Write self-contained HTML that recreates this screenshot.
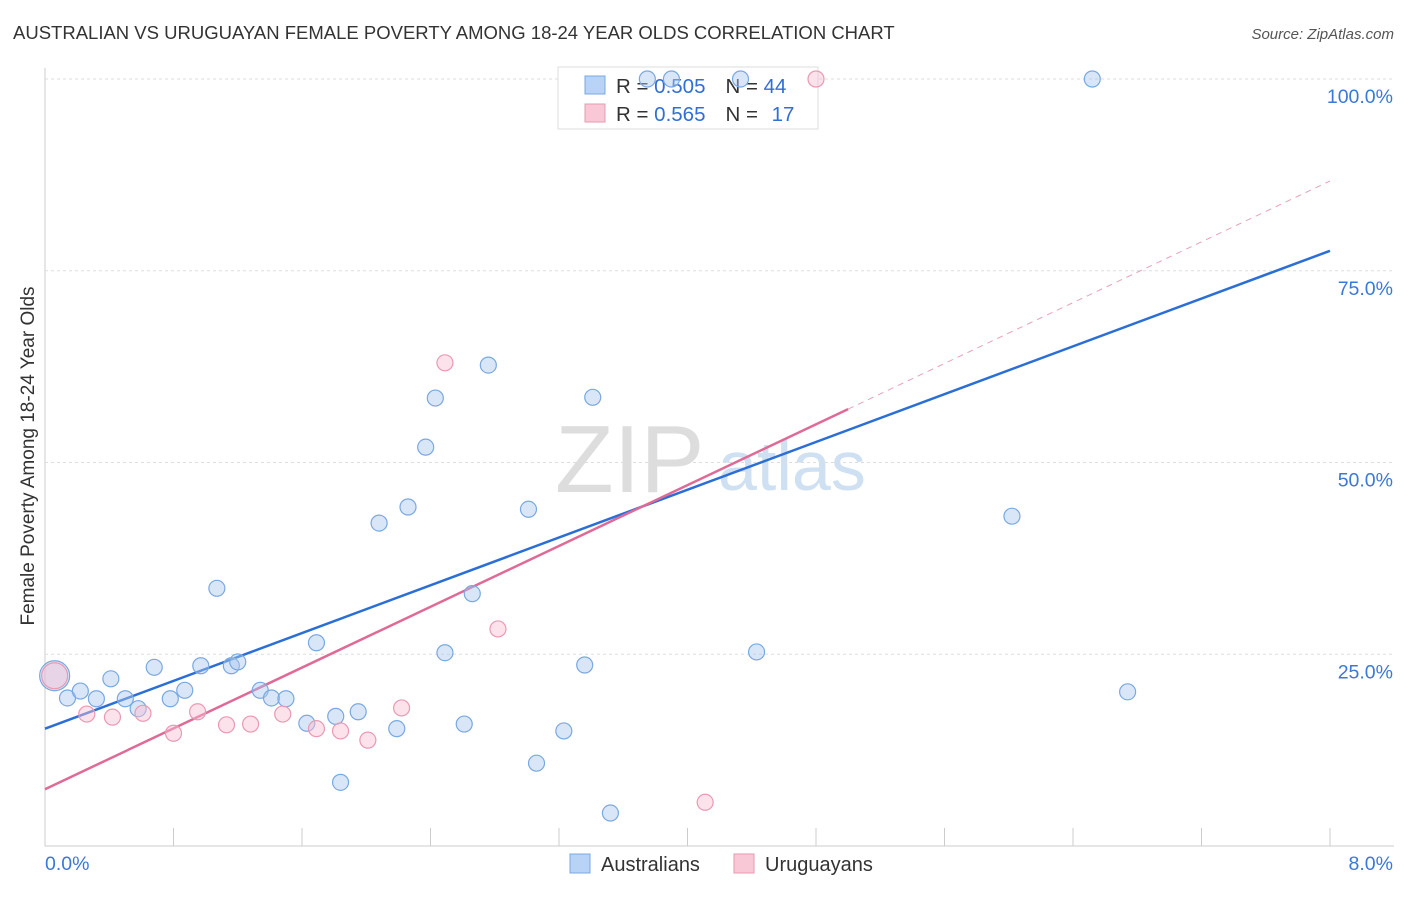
<!DOCTYPE html>
<html><head><meta charset="utf-8"><style>
body{margin:0;background:#fff;font-family:"Liberation Sans",sans-serif;}
svg text{font-family:"Liberation Sans",sans-serif;}
</style></head><body>
<svg id="c" width="1406" height="892">
<text x="13" y="39" font-size="18.5" fill="#333">AUSTRALIAN VS URUGUAYAN FEMALE POVERTY AMONG 18-24 YEAR OLDS CORRELATION CHART</text>
<text x="1394" y="39" font-size="15" fill="#555" font-style="italic" text-anchor="end">Source: ZipAtlas.com</text>
<text x="34" y="456" font-size="19" fill="#333" text-anchor="middle" transform="rotate(-90 34 456)">Female Poverty Among 18-24 Year Olds</text>
<text x="555" y="492" font-size="96" fill="#ddd" font-family="Liberation Serif">ZIP</text>
<text x="718" y="490" font-size="70" fill="#cfe0f3">atlas</text>
<g id="grid"></g>
<g>
<rect x="558" y="67" width="260" height="62" fill="#fff" stroke="#ddd"/>
<rect x="585" y="76" width="20" height="18" fill="#b8d3f5" stroke="#7aa8e0"/>
<rect x="585" y="104" width="20" height="18" fill="#f8c8d6" stroke="#e99ab2"/>
<text x="616" y="93" font-size="20.5" fill="#333">R = <tspan fill="#2f6fd6">0.505</tspan><tspan dx="20">N = </tspan><tspan fill="#2f6fd6">44</tspan></text>
<text x="616" y="121" font-size="20.5" fill="#333">R = <tspan fill="#2f6fd6">0.565</tspan><tspan dx="20">N = </tspan><tspan fill="#2f6fd6" dx="8">17</tspan></text>
</g>
<g id="lines"></g><g id="pts"></g>
<g>
<rect x="570" y="854" width="20" height="19" fill="#b8d3f5" stroke="#7aa8e0"/>
<text x="601" y="871" font-size="20" fill="#333">Australians</text>
<rect x="734" y="854" width="20" height="19" fill="#f8c8d6" stroke="#e99ab2"/>
<text x="765" y="871" font-size="20" fill="#333">Uruguayans</text>
</g>
</svg>
<script>
const blueX=[0.06,0.14,0.22,0.32,0.41,0.50,0.58,0.68,0.78,0.87,0.97,1.07,1.16,1.20,1.34,1.41,1.50,1.63,1.69,1.81,1.84,1.95,2.08,2.19,2.26,2.37,2.43,2.49,2.61,2.66,2.76,3.01,3.06,3.23,3.36,3.41,3.52,4.43,6.02,6.52,6.74,3.75,3.90,4.33];
const blueY=[22.2,19.3,20.2,19.2,21.8,19.2,17.9,23.3,19.2,20.3,23.5,33.6,23.5,24.0,20.3,19.3,19.2,16.0,26.5,16.9,8.3,17.5,42.1,15.3,44.2,52.0,58.4,25.2,15.9,32.9,62.7,43.9,10.8,15.0,23.6,58.5,4.3,25.3,43.0,100,20.1,100,100,100];
const pinkX=[0.06,0.26,0.42,0.61,0.80,0.95,1.13,1.28,1.48,1.69,1.84,2.01,2.22,2.49,2.82,4.11,4.80];
const pinkY=[22.2,17.2,16.8,17.3,14.7,17.5,15.8,15.9,17.2,15.3,15.0,13.8,18.0,63.0,28.3,5.7,100];
const blueLine=[15.3,77.6];
const pinkLine=[7.4,86.7];
const pinkSolidEnd=5.0;
const yTicks=[25,50,75,100];
const xTickCount=10;
const NS="http://www.w3.org/2000/svg";
const sx=v=>45+v/8*1285, sy=v=>846-v/100*767;
function mk(t,a,p){const e=document.createElementNS(NS,t);for(const k in a)e.setAttribute(k,a[k]);p.appendChild(e);return e;}
const grid=document.getElementById('grid'),lines=document.getElementById('lines'),pts=document.getElementById('pts');
mk('line',{x1:45,y1:68,x2:45,y2:846,stroke:'#ccc'},grid);
mk('line',{x1:45,y1:846,x2:1394,y2:846,stroke:'#ccc'},grid);
yTicks.forEach(t=>{
 const l=mk('line',{x1:45,y1:sy(t),x2:1394,y2:sy(t),stroke:'#ddd','stroke-dasharray':'3,3'},grid);
 
 
 const tx=mk('text',{x:1393,y:sy(t)+24,'font-size':19.5,fill:'#3b78d8','text-anchor':'end'},grid);
 tx.textContent=t.toFixed(1)+'%';
 
 
});
for(let i=1;i<=xTickCount;i++){const x=45+i*128.5;const l=mk('line',{x1:x,y1:828,x2:x,y2:846,stroke:'#ccc'},grid);
 
 }
[['0.0%',45,'start'],['8.0%',1393,'end']].forEach(d=>{const t=mk('text',{x:d[1],y:870,'font-size':19.5,fill:'#3b78d8','text-anchor':d[2]},grid);t.textContent=d[0];
 
 });
const pe=pinkLine[0]+(pinkLine[1]-pinkLine[0])*pinkSolidEnd/8;
let l=mk('line',{x1:sx(pinkSolidEnd),y1:sy(pe),x2:sx(8),y2:sy(pinkLine[1]),stroke:'#e8a0b8','stroke-dasharray':'6,5','stroke-width':1},lines);


l=mk('line',{x1:sx(0),y1:sy(blueLine[0]),x2:sx(8),y2:sy(blueLine[1]),stroke:'#2b6fd6','stroke-width':2.5},lines);


l=mk('line',{x1:sx(0),y1:sy(pinkLine[0]),x2:sx(pinkSolidEnd),y2:sy(pe),stroke:'#e06a96','stroke-width':2.5},lines);


blueX.forEach((x,i)=>{const c=mk('circle',{cx:sx(x),cy:sy(blueY[i]),r:i==0?15:8,fill:'rgba(170,200,240,0.45)',stroke:'#7aa8e0','stroke-width':1.2},pts);
 
 });
pinkX.forEach((x,i)=>{const c=mk('circle',{cx:sx(x),cy:sy(pinkY[i]),r:i==0?13:8,fill:'rgba(248,190,210,0.45)',stroke:'#e99ab2','stroke-width':1.2},pts);
 
 });
</script>
</body></html>
